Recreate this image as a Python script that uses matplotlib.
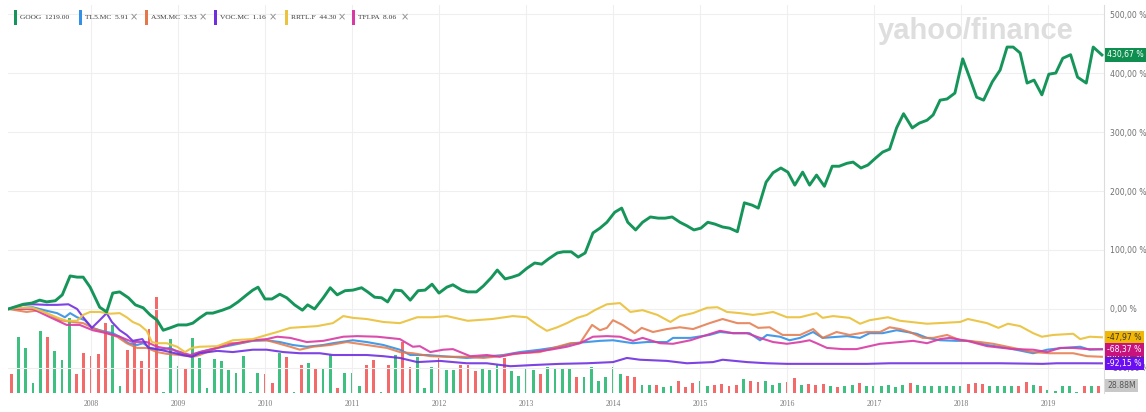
import matplotlib
matplotlib.use("Agg")
import matplotlib.pyplot as plt
import numpy as np
import pandas as pd
from matplotlib.patches import Rectangle

# ---------------- data (percent change since start, decimal years) ----------------
goog_t = [2007.05, 2007.22, 2007.32, 2007.41, 2007.49, 2007.59, 2007.67, 2007.76, 2007.84, 2007.91,
          2007.99, 2008.10, 2008.18, 2008.25, 2008.33, 2008.43, 2008.51, 2008.60, 2008.68, 2008.76,
          2008.83, 2008.91, 2009.00, 2009.10, 2009.17, 2009.25, 2009.33, 2009.40, 2009.51, 2009.60,
          2009.69, 2009.79, 2009.86, 2009.92, 2010.00, 2010.08, 2010.17, 2010.25, 2010.34, 2010.43,
          2010.49, 2010.57, 2010.67, 2010.75, 2010.83, 2010.92, 2011.01, 2011.11, 2011.18, 2011.26,
          2011.34, 2011.41, 2011.49, 2011.57, 2011.67, 2011.76, 2011.84, 2011.92, 2012.00, 2012.09,
          2012.16, 2012.26, 2012.33, 2012.43, 2012.51, 2012.60, 2012.67, 2012.76, 2012.84, 2012.92,
          2013.01, 2013.10, 2013.18, 2013.26, 2013.36, 2013.43, 2013.52, 2013.60, 2013.68, 2013.77,
          2013.85, 2013.93, 2014.02, 2014.10, 2014.17, 2014.26, 2014.34, 2014.43, 2014.52, 2014.60,
          2014.68, 2014.77, 2014.85, 2014.93, 2015.01, 2015.09, 2015.17, 2015.26, 2015.34, 2015.43,
          2015.51, 2015.60, 2015.67, 2015.76, 2015.84, 2015.93, 2016.01, 2016.09, 2016.18, 2016.26,
          2016.34, 2016.43, 2016.52, 2016.60, 2016.69, 2016.76, 2016.85, 2016.93, 2017.02, 2017.10,
          2017.18, 2017.26, 2017.34, 2017.44, 2017.52, 2017.61, 2017.68, 2017.76, 2017.84, 2017.93,
          2018.02, 2018.10, 2018.18, 2018.26, 2018.36, 2018.45, 2018.53, 2018.60, 2018.68, 2018.76,
          2018.84, 2018.93, 2019.01, 2019.09, 2019.17, 2019.26, 2019.34, 2019.44, 2019.52, 2019.62]
goog_v = [0, 8, 10, 15, 12, 14, 24, 56, 54, 54,
          37, 3, -5, 27, 29, 19, 7, 2, -10, -19,
          -36, -32, -27, -27, -24, -15, -7, -7, -2, 3,
          12, 24, 32, 37, 17, 17, 25, 19, 7, -2,
          7, 0, 19, 36, 24, 31, 32, 36, 29, 20,
          19, 12, 32, 31, 15, 31, 32, 42, 27, 37,
          41, 32, 29, 29, 39, 53, 66, 51, 54, 58,
          69, 78, 76, 85, 95, 97, 97, 88, 95, 129,
          137, 147, 164, 171, 147, 134, 147, 156, 154, 154,
          156, 147, 141, 134, 137, 147, 144, 139, 137, 131,
          180, 176, 171, 215, 231, 239, 232, 210, 232, 210,
          227, 208, 242, 242, 247, 249, 239, 244, 256, 266,
          271, 307, 331, 307, 315, 320, 329, 354, 356, 366,
          424, 392, 359, 354, 385, 405, 444, 444, 434, 383,
          388, 363, 398, 400, 425, 431, 393, 383, 444, 430.67]

tl5_t = [2007.05, 2007.33, 2007.49, 2007.61, 2007.70, 2007.76, 2007.84, 2007.93,
         2008.01, 2008.10, 2008.18, 2008.25, 2008.33, 2008.43, 2008.53, 2008.60, 2008.68, 2008.79, 2008.91,
         2009.02, 2009.14, 2009.25, 2009.45, 2009.63, 2009.86,
         2010.02, 2010.17, 2010.32, 2010.48, 2010.67, 2010.78,
         2011.01, 2011.17, 2011.36, 2011.55, 2011.67, 2011.86,
         2012.13, 2012.32, 2012.51, 2012.74, 2012.93,
         2013.16, 2013.39, 2013.54, 2013.70, 2013.85,
         2014.00, 2014.23, 2014.39, 2014.62, 2014.69, 2014.89,
         2015.11, 2015.23, 2015.38, 2015.57, 2015.69, 2015.77, 2015.92,
         2016.03, 2016.15, 2016.30, 2016.41, 2016.69, 2016.84, 2016.95,
         2017.10, 2017.26, 2017.38, 2017.49, 2017.61, 2017.76, 2017.95,
         2018.10, 2018.30, 2018.53, 2018.83, 2018.99,
         2019.17, 2019.37, 2019.48, 2019.62]
tl5_v = [0, 3, -3, -7, -14, -7, -14, -19,
         -32, -36, -39, -41, -47, -58, -61, -58, -66, -69, -66,
         -75, -80, -73, -66, -61, -54,
         -53, -56, -61, -64, -61, -58,
         -53, -56, -61, -69, -78, -78,
         -81, -83, -81, -78, -73,
         -69, -64, -58, -56, -54,
         -53, -58, -56, -56, -49, -49,
         -44, -39, -41, -41, -53, -44, -47,
         -53, -49, -39, -49, -46, -49, -41,
         -41, -36, -39, -42, -49, -53, -54,
         -54, -61, -66, -75, -69,
         -66, -64, -69, -68]

a3m_t = [2007.05, 2007.26, 2007.41, 2007.53, 2007.64, 2007.79, 2007.91,
         2008.02, 2008.18, 2008.30, 2008.41, 2008.53, 2008.64, 2008.76, 2008.87,
         2009.02, 2009.17, 2009.25, 2009.40, 2009.56, 2009.71, 2009.86,
         2010.02, 2010.17, 2010.29, 2010.40, 2010.55, 2010.75, 2010.94,
         2011.17, 2011.40, 2011.55, 2011.70, 2011.90,
         2012.09, 2012.32, 2012.51, 2012.70, 2012.93,
         2013.16, 2013.36, 2013.51, 2013.62, 2013.76, 2013.85, 2013.93,
         2014.00, 2014.11, 2014.25, 2014.33, 2014.46, 2014.62, 2014.77, 2014.92,
         2015.11, 2015.26, 2015.43, 2015.57, 2015.67, 2015.80, 2015.95,
         2016.15, 2016.30, 2016.41, 2016.57, 2016.72, 2016.92,
         2017.07, 2017.18, 2017.30, 2017.41, 2017.56, 2017.68, 2017.84, 2017.99,
         2018.22, 2018.37, 2018.60, 2018.83,
         2019.02, 2019.29, 2019.45, 2019.62]
a3m_v = [0, -5, -2, -10, -19, -22, -24,
         -32, -41, -47, -58, -66, -66, -73, -76,
         -78, -81, -78, -69, -58, -58, -53,
         -53, -59, -64, -69, -64, -61, -56,
         -61, -66, -73, -75, -80,
         -81, -81, -83, -80, -75,
         -73, -64, -58, -58, -27, -36, -32,
         -19, -27, -41, -32, -39, -34, -31, -34,
         -24, -17, -24, -24, -32, -31, -44,
         -44, -34, -49, -39, -44, -39,
         -39, -31, -34, -39, -49, -49, -44, -53,
         -56, -59, -66, -73,
         -75, -75, -80, -81]

voc_t = [2007.05, 2007.22, 2007.33, 2007.49, 2007.61, 2007.74, 2007.84, 2007.91,
         2008.01, 2008.10, 2008.18, 2008.24, 2008.33, 2008.41, 2008.48, 2008.59, 2008.66, 2008.79, 2008.91,
         2009.05, 2009.16, 2009.25, 2009.45, 2009.63, 2009.86,
         2010.02, 2010.21, 2010.40, 2010.63, 2010.78, 2010.98,
         2011.17, 2011.36, 2011.55, 2011.75,
         2012.01, 2012.32, 2012.55, 2012.82,
         2013.08, 2013.39, 2013.70,
         2014.00, 2014.16, 2014.31, 2014.62, 2014.85,
         2015.15, 2015.26, 2015.54, 2015.77,
         2016.00, 2016.53, 2016.92,
         2017.18, 2017.68,
         2018.45, 2018.94,
         2019.10, 2019.40, 2019.62]
voc_v = [0, 7, 8, 7, 7, 8, 0, -14,
         -32, -19, -7, -22, -36, -44, -54, -51, -66, -69, -73,
         -78, -81, -75, -71, -73, -69,
         -69, -73, -75, -75, -78, -78,
         -78, -80, -83, -90,
         -88, -92, -92, -97,
         -95, -93, -92,
         -90, -83, -86, -88, -92,
         -90, -86, -90, -92,
         -93, -93, -93,
         -92, -92,
         -92, -93,
         -92, -92, -92.15]

rrtl_t = [2007.05, 2007.18, 2007.33, 2007.49, 2007.62, 2007.72, 2007.84, 2007.91, 2007.99,
          2008.10, 2008.22, 2008.33, 2008.41, 2008.48, 2008.56, 2008.64, 2008.70, 2008.76, 2008.87, 2008.99,
          2009.08, 2009.16, 2009.25, 2009.45, 2009.63, 2009.86,
          2010.02, 2010.14, 2010.29, 2010.60, 2010.78, 2010.90,
          2011.01, 2011.17, 2011.36, 2011.55, 2011.75, 2011.93,
          2012.09, 2012.33, 2012.61, 2012.85,
          2013.01, 2013.13, 2013.24, 2013.36, 2013.47, 2013.59, 2013.70, 2013.79, 2013.93,
          2014.08, 2014.20, 2014.34, 2014.51, 2014.66, 2014.77, 2014.92,
          2015.08, 2015.20, 2015.31, 2015.46, 2015.61, 2015.72, 2015.84,
          2016.00, 2016.15, 2016.34, 2016.41, 2016.53, 2016.72, 2016.84, 2016.95,
          2017.16, 2017.30, 2017.61, 2017.99,
          2018.08, 2018.30, 2018.43, 2018.54, 2018.68, 2018.83, 2018.93,
          2019.06, 2019.29, 2019.37, 2019.48, 2019.62]
rrtl_v = [0, 2, 2, -7, -15, -20, -20, -10, -5,
          -5, -8, -7, -14, -22, -27, -37, -56, -58, -58, -64,
          -73, -66, -64, -63, -53, -51,
          -44, -39, -32, -29, -24, -12,
          -15, -17, -22, -24, -14, -14,
          -12, -20, -17, -12,
          -14, -27, -37, -31, -24, -15, -10, -2, 8,
          10, -5, -2, -10, -22, -12, -7,
          2, 3, -5, -7, -10, -8, -5,
          -14, -14, -7, -15, -12, -15, -25, -19,
          -14, -20, -25, -22,
          -17, -24, -32, -25, -29, -41, -47,
          -44, -42, -51, -47, -47.97]

tfi_t = [2007.05, 2007.33, 2007.53, 2007.72, 2007.87,
         2008.02, 2008.18, 2008.33, 2008.48, 2008.64, 2008.76, 2008.94,
         2009.14, 2009.25, 2009.45, 2009.63, 2009.86,
         2010.02, 2010.14, 2010.29, 2010.48, 2010.67, 2010.90,
         2011.06, 2011.29, 2011.55, 2011.70, 2011.78, 2011.90,
         2012.05, 2012.16, 2012.36, 2012.55, 2012.70, 2012.85,
         2013.08, 2013.28, 2013.47, 2013.62, 2013.77, 2013.93,
         2014.08, 2014.23, 2014.34, 2014.54, 2014.69, 2014.89,
         2015.08, 2015.23, 2015.38, 2015.54, 2015.69, 2015.84,
         2016.00, 2016.15, 2016.26, 2016.34, 2016.46, 2016.64, 2016.80, 2016.92,
         2017.07, 2017.30, 2017.45, 2017.61, 2017.76, 2017.87,
         2018.07, 2018.30, 2018.60, 2018.83, 2018.99,
         2019.14, 2019.29, 2019.45, 2019.62]
tfi_v = [0, 0, -14, -27, -27,
         -36, -41, -47, -56, -56, -64, -69,
         -78, -73, -66, -59, -53,
         -51, -47, -49, -56, -54, -47,
         -46, -47, -51, -64, -63, -73,
         -69, -68, -80, -78, -81, -76,
         -73, -69, -64, -58, -47, -46,
         -47, -54, -49, -58, -59, -53,
         -44, -37, -41, -41, -49, -56,
         -59, -56, -53, -58, -66, -68, -68, -64,
         -59, -56, -54, -58, -51, -49,
         -54, -63, -68, -69, -73,
         -66, -66, -68, -68.37]

# monthly GOOG volume (millions), Feb 2007 .. Aug 2019, and up/down month flag
vol_start = "2007-02-01"
vol_m = [76, 224, 180, 40, 248, 224, 168, 132, 300, 76,
         160, 148, 156, 280, 272, 28, 172, 200, 128, 256,
         384, 4, 216, 108, 96, 220, 140, 20, 136, 128,
         92, 80, 148, 4, 80, 76, 40, 160, 144, 4,
         112, 120, 100, 100, 152, 20, 80, 80, 28, 112,
         132, 4, 112, 152, 204, 104, 144, 20, 104, 140,
         92, 92, 112, 112, 88, 96, 92, 112, 140, 88,
         68, 100, 92, 76, 104, 96, 96, 96, 64, 64,
         104, 48, 64, 104, 76, 68, 64, 32, 32, 32,
         24, 28, 48, 24, 40, 48, 28, 32, 36, 28,
         32, 56, 48, 44, 48, 32, 40, 44, 60, 32,
         36, 32, 36, 28, 24, 28, 32, 40, 28, 28,
         28, 32, 24, 32, 40, 32, 28, 28, 28, 28,
         28, 28, 36, 40, 36, 28, 28, 28, 28, 28,
         44, 32, 28, 12, 8, 28, 28, 4, 28, 28,
         28.88]
vol_up = [0, 1, 1, 1, 1, 0, 1, 1, 1, 0,
          0, 0, 0, 0, 1, 1, 0, 0, 0, 0,
          0, 1, 1, 1, 0, 1, 1, 1, 1, 1,
          1, 1, 1, 1, 1, 0, 0, 1, 0, 1,
          0, 1, 0, 1, 1, 0, 1, 1, 1, 0,
          0, 1, 0, 1, 0, 0, 1, 1, 1, 0,
          1, 1, 0, 0, 0, 1, 1, 1, 0, 1,
          1, 1, 1, 0, 1, 1, 1, 1, 0, 1,
          1, 1, 1, 1, 1, 0, 0, 1, 1, 0,
          1, 1, 0, 0, 0, 1, 1, 0, 0, 0,
          0, 1, 0, 0, 1, 1, 1, 0, 0, 1,
          0, 0, 0, 1, 0, 1, 1, 0, 1, 1,
          1, 1, 1, 1, 0, 1, 1, 1, 1, 1,
          1, 1, 0, 0, 0, 1, 1, 1, 1, 0,
          0, 1, 0, 1, 1, 1, 1, 1, 0, 1,
          0]

legend_names = ["GOOG", "TL5.MC", "A3M.MC", "VOC.MC", "RRTL.F", "TFI.PA"]
legend_prices = ["1219.00", "5.91", "3.53", "1.16", "44.30", "8.06"]
year_ticks = list(range(2008, 2020))
pct_ticks = [-100, 0, 100, 200, 300, 400, 500]
vol_label = "28.88M"

# ---------------- styling ----------------
C_GOOG = "#16955a"
C_TL5 = "#3290e6"
C_A3M = "#e4784a"
C_VOC = "#6f2ee0"
C_RRTL = "#ebc340"
C_TFI = "#d83aa4"
VOL_UP, VOL_DN = "#3fbf80", "#f26a6a"

W, H = 1146, 412
fig = plt.figure(figsize=(W / 100, H / 100), dpi=100)
fig.patch.set_facecolor("white")
rect = [8 / W, 19 / H, 1096 / W, 388 / H]

axv = fig.add_axes(rect)
ax = fig.add_axes(rect, sharex=axv)
ax.patch.set_visible(False)

# volume bars
vd = pd.date_range(vol_start, periods=len(vol_m), freq="MS")
vx = vd.year + (vd.month - 1) / 12.0
vcol = [VOL_UP if u else VOL_DN for u in vol_up]
axv.bar(vx, vol_m, width=0.034, color=vcol, linewidth=0, align="center")
axv.set_ylim(0, 1552)
axv.set_yticks([])
for s in axv.spines.values():
    s.set_visible(False)
axv.tick_params(axis="x", length=0)

# grid
axv.set_xlim(2007.046, 2019.644)
ax.set_ylim(-142.4, 515.3)
ax.set_yticks(pct_ticks)
ax.set_xticks(year_ticks)
ax.set_xticklabels([str(y) for y in year_ticks], fontsize=5.6, color="#7a7a7a",
                   family="Liberation Serif")
ax.grid(True, color="#efefef", linewidth=0.8)
ax.set_axisbelow(True)
ax.tick_params(axis="x", length=0, pad=5)
ax.yaxis.tick_right()
ax.tick_params(axis="y", length=0, pad=4, labelsize=5.6, labelcolor="#707070")
ax.set_yticklabels([f"{v:,.2f} %".replace(".", ",") for v in pct_ticks])
for k, s in ax.spines.items():
    s.set_visible(k == "right")
ax.spines["right"].set_color("#dcdcdc")
ax.spines["right"].set_linewidth(0.8)
plt.setp(axv.get_xticklabels(), visible=False)

# lines
lw = 1.5
ax.plot(tl5_t, tl5_v, color=C_TL5, lw=lw, alpha=0.9, solid_joinstyle="round")
ax.plot(a3m_t, a3m_v, color=C_A3M, lw=lw, alpha=0.85, solid_joinstyle="round")
ax.plot(tfi_t, tfi_v, color=C_TFI, lw=lw, alpha=0.9, solid_joinstyle="round")
ax.plot(voc_t, voc_v, color=C_VOC, lw=lw, alpha=0.9, solid_joinstyle="round")
ax.plot(rrtl_t, rrtl_v, color=C_RRTL, lw=lw, alpha=0.95, solid_joinstyle="round")
ax.plot(goog_t, goog_v, color=C_GOOG, lw=2.1, solid_joinstyle="round")


def tag(a, val, text, fc, tc, z):
    a.annotate(text, xy=(1, val), xycoords=("axes fraction", "data"),
               xytext=(2.2, 0), textcoords="offset points", ha="left", va="center",
               fontsize=5.6, color=tc, annotation_clip=False, zorder=z,
               bbox=dict(boxstyle="square,pad=0.28", fc=fc, ec="none"))


tag(ax, a3m_v[-1], "-80,82 %", "#9c2b2b", "white", 5)
tag(ax, rrtl_v[-1], "-47,97 %", "#f2b705", "#333333", 6)
tag(ax, tfi_v[-1], "-68,37 %", "#c8137e", "white", 7)
tag(ax, voc_v[-1], "-92,15 %", "#6a0ff2", "white", 8)
tag(ax, goog_v[-1], "430,67 %", "#0e8f4f", "white", 9)
tag(axv, vol_m[-1], vol_label, "#c8c8c8", "#555555", 9)

# legend
leg_colors = [C_GOOG, C_TL5, C_A3M, C_VOC, C_RRTL, C_TFI]
leg_x = [14, 79, 145, 214, 285, 352]
x_pos = [None, 134, 203, 273, 342, 405]
for name, price, c, lx, xx in zip(legend_names, legend_prices, leg_colors, leg_x, x_pos):
    fig.patches.append(Rectangle((lx / W, 1 - 25 / H), 3 / W, 15 / H, transform=fig.transFigure,
                                 facecolor=c, edgecolor="none"))
    fig.text((lx + 6) / W, 1 - 17.5 / H, f"{name}  {price}", fontsize=5.4, color="#3a3a3a",
             family="Liberation Serif", va="center", ha="left")
    if xx is not None:
        fig.text(xx / W, 1 - 17.5 / H, "×", fontsize=7, color="#8a8a8a", va="center", ha="center")

# watermark
fig.text(878 / W, 1 - 31 / H, "yahoo/finance", fontsize=21, fontweight="bold",
         color="#dedede", family="Liberation Sans", va="center", ha="left")

fig.savefig("out.png", dpi=100, facecolor="white")
